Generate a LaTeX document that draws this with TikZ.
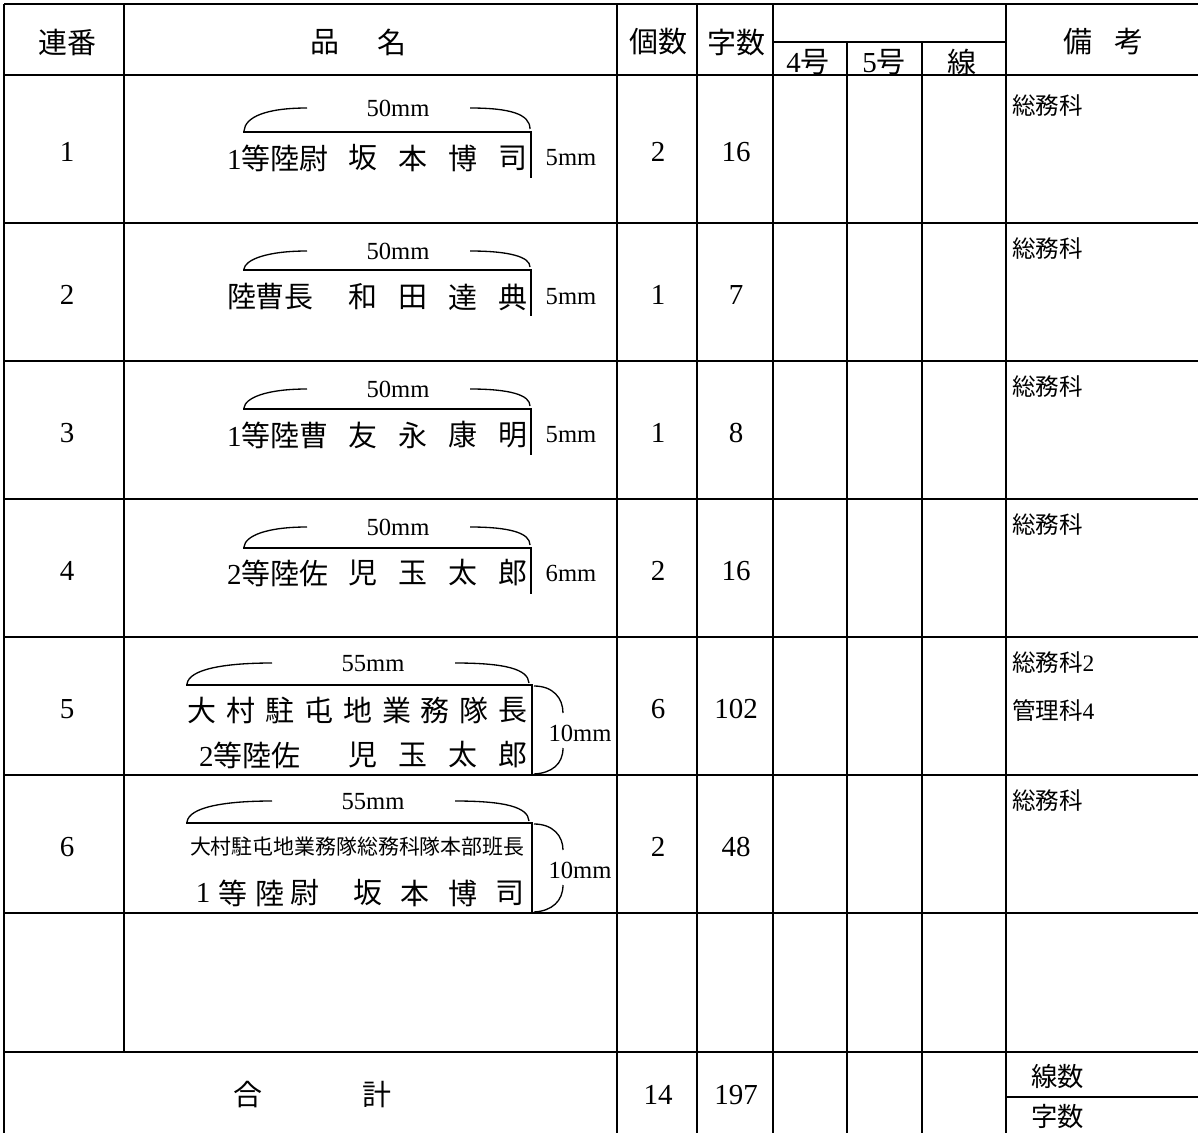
\documentclass[tikz,border=0pt]{standalone}
\usepackage{fontspec}
\setmainfont{Liberation Serif}
\newfontfamily\cjk{Noto Sans CJK JP}
\newcommand\J[1]{{\cjk #1}}
\begin{document}
\begin{tikzpicture}[x=0.02cm,y=-0.02cm,
  grid/.style={line width=1.15pt},
  barline/.style={line width=1.6pt},
  arcline/.style={line width=0.75pt},
  every node/.style={inner sep=0pt,outer sep=0pt},
  big/.style={font=\fontsize{16.5}{18}\selectfont},
  bigj/.style={font=\fontsize{16.5}{18}\selectfont\cjk},
  dimtxt/.style={font=\fontsize{14}{16}\selectfont},
  note/.style={font=\fontsize{13.4}{15}\selectfont,anchor=west},
  foot/.style={font=\fontsize{15}{17}\selectfont\cjk,anchor=west}]
\useasboundingbox (0,0) rectangle (1198,1133);
\fill[white] (0,0) rectangle (1198,1133);

% ---------- grid ----------
\draw[grid] (4,4) -- (1198,4);
\draw[grid] (4,4) -- (4,1133);
\foreach \yy in {75,223,361,499,637,775,913,1052}
  \draw[grid] (4,\yy) -- (1198,\yy);
\draw[grid] (773,42) -- (1006,42);
\draw[grid] (124,4) -- (124,1052);
\foreach \xx in {617,697,773,1006}
  \draw[grid] (\xx,4) -- (\xx,1133);
\foreach \xx in {847,922}
  \draw[grid] (\xx,42) -- (\xx,1133);
\draw[grid] (1006,1097) -- (1198,1097);

% ---------- header ----------
\node[bigj] (h-ren) at (67,42) {連番};
\node[bigj] (h-hin) at (325,42) {品};
\node[bigj] (h-mei) at (392,42) {名};
\node[bigj] (h-ko) at (658,42) {個数};
\node[bigj] (h-ji) at (736,42) {字数};
\node[big] (h-4) at (808,62) {4\J{号}};
\node[big] (h-5) at (884,62) {5\J{号}};
\node[bigj] (h-sen) at (962,62) {線};
\node[bigj] (h-bi) at (1078,42) {備};
\node[bigj] (h-kou) at (1129,42) {考};

% ---------- rows 1-4 ----------
\foreach \i/\by/\ty/\ly/\ry/\rk/\na/\nb/\nc/\nd/\mm/\cnt/\chr/\ny in {
  1/132/158/108/152/1\J{等陸尉}/坂/本/博/司/5mm/2/16/106,
  2/270/297/251/295/\J{陸曹長}/和/田/達/典/5mm/1/7/249,
  3/409/435/389/433/1\J{等陸曹}/友/永/康/明/5mm/1/8/387,
  4/548/573/527/571/2\J{等陸佐}/児/玉/太/郎/6mm/2/16/525}{
  \node[big] (no\i) at (67,\ry) {\i};
  \node[big,anchor=west] (rank\i) at (227,\ty) {\rk};
  \node[bigj] (na\i) at (363,\ty) {\na};
  \node[bigj] (nb\i) at (413,\ty) {\nb};
  \node[bigj] (nc\i) at (463,\ty) {\nc};
  \node[bigj] (nd\i) at (513,\ty) {\nd};
  \draw[barline] (243,\by) -- (531,\by) -- (531,\by+46);
  \node[dimtxt] (w\i) at (398,\ly) {50mm};
  \draw[arcline] (244,\by-1) .. controls (245,\ly+9) and (266,\ly) .. (307,\ly);
  \draw[arcline] (470,\ly) .. controls (510,\ly) and (530,\ly+6) .. (530,\by-3);
  \node[dimtxt] (h\i) at (571,\ty) {\mm};
  \node[big] (cnt\i) at (658,\ry) {\cnt};
  \node[big] (chr\i) at (736,\ry) {\chr};
  \node[note] (bk\i) at (1012,\ny) {\J{総務科}};
}

% ---------- row 5 ----------
\node[big] (no5) at (67,709) {5};
\draw[barline] (186,685) -- (532,685) -- (532,775);
\node[dimtxt] (w5) at (373,664) {55mm};
\draw[arcline] (187,684) .. controls (189,669) and (225,663) .. (272,663);
\draw[arcline] (455,663) .. controls (505,663) and (528,669) .. (529,683);
\foreach \c [count=\k from 0] in {大,村,駐,屯,地,業,務,隊,長}
  \node[bigj] (r5a-\k) at (202+\k*38.9,710) {\c};
\node[big,anchor=west] (r5rank) at (199,755) {2\J{等陸佐}};
\node[bigj] (r5na) at (363,755) {児};
\node[bigj] (r5nb) at (413,755) {玉};
\node[bigj] (r5nc) at (463,755) {太};
\node[bigj] (r5nd) at (513,755) {郎};
\draw[arcline] (534,686) .. controls (553,686) and (563,698) .. (563,713);
\draw[arcline] (563,748) .. controls (563,764) and (552,773) .. (534,774);
\node[dimtxt] (h5) at (580,733) {10mm};
\node[big] (cnt5) at (658,709) {6};
\node[big] (chr5) at (736,709) {102};
\node[note] (bk5a) at (1012,663) {\J{総務科}2};
\node[note] (bk5b) at (1012,710) {\J{管理科}4};

% ---------- row 6 ----------
\node[big] (no6) at (67,847) {6};
\draw[barline] (186,823) -- (532,823) -- (532,913);
\node[dimtxt] (w6) at (373,802) {55mm};
\draw[arcline] (187,822) .. controls (189,807) and (225,801) .. (272,801);
\draw[arcline] (455,801) .. controls (505,801) and (528,807) .. (529,821);
\node[font=\fontsize{11.9}{13}\selectfont\cjk,anchor=west] (r6a) at (190,847) {大村駐屯地業務隊総務科隊本部班長};
\node[big] (r6b0) at (203,893) {1};
\node[bigj] (r6b1) at (233,893) {等};
\node[bigj] (r6b2) at (270,893) {陸};
\node[bigj] (r6b3) at (305,893) {尉};
\node[bigj] (r6b4) at (368,893) {坂};
\node[bigj] (r6b5) at (415,893) {本};
\node[bigj] (r6b6) at (463,893) {博};
\node[bigj] (r6b7) at (510,893) {司};
\draw[arcline] (534,824) .. controls (553,824) and (563,836) .. (563,850);
\draw[arcline] (563,885) .. controls (563,901) and (552,911) .. (534,912);
\node[dimtxt] (h6) at (580,870) {10mm};
\node[big] (cnt6) at (658,847) {2};
\node[big] (chr6) at (736,847) {48};
\node[note] (bk6) at (1012,801) {\J{総務科}};

% ---------- footer ----------
\node[bigj] (f-go) at (248,1095) {合};
\node[bigj] (f-kei) at (377,1095) {計};
\node[big] (f-cnt) at (658,1095) {14};
\node[big] (f-chr) at (736,1095) {197};
\node[foot] (f-sen) at (1031,1076) {線数};
\node[foot] (f-ji) at (1031,1116) {字数};
\end{tikzpicture}
\end{document}
